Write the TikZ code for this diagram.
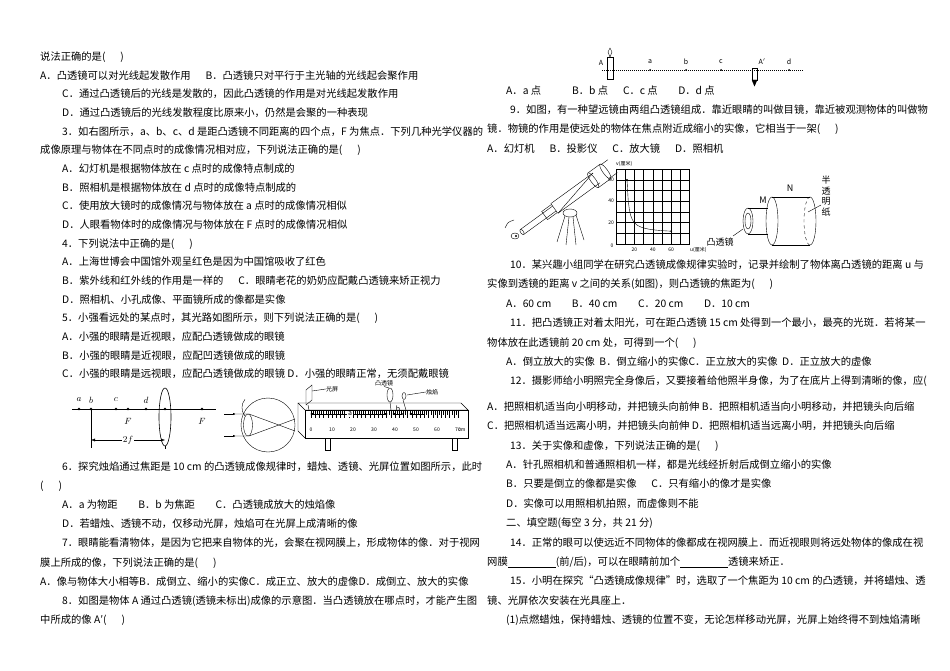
\documentclass[tikz,border=0pt]{standalone}
\usepackage{fontspec}
\setmainfont{Noto Sans CJK SC}
\usetikzlibrary{arrows.meta}
\newcommand{\Ln}[3]{\node[txt] at (#1,#2) {#3};}
\begin{document}
\begin{tikzpicture}[x=1pt,y=-1pt,
  txt/.style={anchor=west,inner sep=0pt,font=\fontsize{10.3}{12}\selectfont},
  lab/.style={inner sep=0pt,font=\fontsize{7}{8}\selectfont\itshape},
  big/.style={inner sep=0pt,font=\fontsize{9}{9}\selectfont},
  sml/.style={inner sep=0pt,font=\fontsize{5}{6}\selectfont},
  ln/.style={line width=0.6pt},
  thin/.style={line width=0.4pt}]
\useasboundingbox[fill=white] (0,0) rectangle (950,671);
% ---------- left column ----------
\Ln{40}{57}{说法正确的是(\quad\ \ )}
\Ln{40}{76}{A．凸透镜可以对光线起发散作用\quad\ \ B．凸透镜只对平行于主光轴的光线起会聚作用}
\Ln{62}{94}{C．通过凸透镜后的光线是发散的，因此凸透镜的作用是对光线起发散作用}
\Ln{62}{113}{D．通过凸透镜后的光线发散程度比原来小，仍然是会聚的一种表现}
\Ln{62}{132}{3．如右图所示，a、b、c、d 是距凸透镜不同距离的四个点，F 为焦点．下列几种光学仪器的}
\Ln{40}{150}{成像原理与物体在不同点时的成像情况相对应，下列说法正确的是(\quad\ \ )}
\Ln{62}{169}{A．幻灯机是根据物体放在 c 点时的成像特点制成的}
\Ln{62}{188}{B．照相机是根据物体放在 d 点时的成像特点制成的}
\Ln{62}{206}{C．使用放大镜时的成像情况与物体放在 a 点时的成像情况相似}
\Ln{62}{225}{D．人眼看物体时的成像情况与物体放在 F 点时的成像情况相似}
\Ln{62}{244}{4．下列说法中正确的是(\quad\ \ )}
\Ln{62}{262}{A．上海世博会中国馆外观呈红色是因为中国馆吸收了红色}
\Ln{62}{281}{B．紫外线和红外线的作用是一样的\quad\ \ C．眼睛老花的奶奶应配戴凸透镜来矫正视力}
\Ln{62}{300}{D．照相机、小孔成像、平面镜所成的像都是实像}
\Ln{62}{318}{5．小强看远处的某点时，其光路如图所示，则下列说法正确的是(\quad\ \ )}
\Ln{62}{337}{A．小强的眼睛是近视眼，应配凸透镜做成的眼镜}
\Ln{62}{356}{B．小强的眼睛是近视眼，应配凹透镜做成的眼镜}
\Ln{62}{374}{C．小强的眼睛是远视眼，应配凸透镜做成的眼镜 D．小强的眼睛正常，无须配戴眼镜}
\Ln{62}{467}{6．探究烛焰通过焦距是 10 cm 的凸透镜成像规律时，蜡烛、透镜、光屏位置如图所示，此时}
\Ln{40}{486}{(\quad\ \ )}
\Ln{62}{505}{A．a 为物距\qquad B．b 为焦距\qquad C．凸透镜成放大的烛焰像}
\Ln{62}{524}{D．若蜡烛、透镜不动，仅移动光屏，烛焰可在光屏上成清晰的像}
\Ln{62}{543}{7．眼睛能看清物体，是因为它把来自物体的光，会聚在视网膜上，形成物体的像．对于视网}
\Ln{40}{563}{膜上所成的像，下列说法正确的是(\quad\ \ )}
\Ln{40}{582}{A．像与物体大小相等B．成倒立、缩小的实像C．成正立、放大的虚像D．成倒立、放大的实像}
\Ln{62}{601}{8．如图是物体 A 通过凸透镜(透镜未标出)成像的示意图．当凸透镜放在哪点时，才能产生图}
\Ln{40}{620}{中所成的像 A′(\quad\ \ )}
% ---------- right column ----------
\Ln{506}{91}{A．a 点\qquad\quad B．b 点\quad\ \ C．c 点\qquad D．d 点}
\Ln{510}{110}{9．如图，有一种望远镜由两组凸透镜组成．靠近眼睛的叫做目镜，靠近被观测物体的叫做物}
\Ln{487}{129}{镜．物镜的作用是使远处的物体在焦点附近成缩小的实像，它相当于一架(\quad\ \ )}
\Ln{487}{149}{A．幻灯机\quad\ \ B．投影仪\quad\ \ C．放大镜\quad\ \ D．照相机}
\Ln{510}{265}{10．某兴趣小组同学在研究凸透镜成像规律实验时，记录并绘制了物体离凸透镜的距离 u 与}
\Ln{487}{284}{实像到透镜的距离 v 之间的关系(如图)，则凸透镜的焦距为(\quad\ \ )}
\Ln{506}{304}{A．60 cm\qquad B．40 cm\qquad C．20 cm\qquad D．10 cm}
\Ln{510}{323}{11．把凸透镜正对着太阳光，可在距凸透镜 15 cm 处得到一个最小，最亮的光斑．若将某一}
\Ln{487}{343}{物体放在此透镜前 20 cm 处，可得到一个(\quad\ \ )}
\Ln{506}{362}{A．倒立放大的实像\ \ B．倒立缩小的实像C．正立放大的实像\ \ D．正立放大的虚像}
\Ln{510}{381}{12．摄影师给小明照完全身像后，又要接着给他照半身像，为了在底片上得到清晰的像，应(}
\Ln{487}{407}{A．把照相机适当向小明移动，并把镜头向前伸 B．把照相机适当向小明移动，并把镜头向后缩}
\Ln{487}{426}{C．把照相机适当远离小明，并把镜头向前伸 D．把照相机适当远离小明，并把镜头向后缩}
\Ln{510}{446}{13．关于实像和虚像，下列说法正确的是(\quad\ \ )}
\Ln{506}{465}{A．针孔照相机和普通照相机一样，都是光线经折射后成倒立缩小的实像}
\Ln{506}{484}{B．只要是倒立的像都是实像\quad\ \ C．只有缩小的像才是实像}
\Ln{506}{504}{D．实像可以用照相机拍照，而虚像则不能}
\Ln{506}{523}{二、填空题(每空 3 分，共 21 分)}
\Ln{510}{543}{14．正常的眼可以使远近不同物体的像都成在视网膜上．而近视眼则将远处物体的像成在视}
\Ln{487}{562}{网膜\underline{\hspace{48pt}}(前/后)，可以在眼睛前加个\underline{\hspace{48pt}}透镜来矫正．}
\Ln{510}{581}{15．小明在探究“凸透镜成像规律”时，选取了一个焦距为 10 cm 的凸透镜，并将蜡烛、透}
\Ln{487}{601}{镜、光屏依次安装在光具座上．}
\Ln{506}{620}{(1)点燃蜡烛，保持蜡烛、透镜的位置不变，无论怎样移动光屏，光屏上始终得不到烛焰清晰}
% ---------- figure: points a b c d F ----------
\coordinate (ax0) at (72,409); \coordinate (ax1) at (216,409);
\draw[ln] (ax0) -- (ax1);
\foreach \x/\n in {79/a,91/b,116/c,146/d}{
  \fill (\x,409) circle (1.3pt); \node[big] at (\x,400) {$\n$};}
\fill (128,409) circle (1.3pt); \node[big] at (128,421) {$F$};
\fill (202,409) circle (1.3pt); \node[big] at (202,421) {$F$};
\fill (165,409) circle (1.3pt);
\draw[ln] (165,417) ellipse (6 and 29);
\coordinate (tb) at (91,440); \coordinate (tl) at (165,440);
\draw[thin] (91,409) -- (91,448); \draw[thin] (165,446) -- (165,449);
\node[big,fill=white,inner sep=1pt] (tf) at (128,440) {$2f$};
\draw[thin,-{Latex[length=4pt]}] (tf) -- (tb);
\draw[thin,-{Latex[length=4pt]}] (tf) -- (tl);
% ---------- figure: eye ----------
\draw[thin] (268,425) circle (27);
\draw[thin] (248,425) ellipse (4.5 and 11);
\draw[thin] (245,416) arc (140:220:13);
\foreach \yy/\s in {414/1,436/-1}{
  \draw[thin,-{Latex[length=3pt]}] (224,\yy) -- (236,\yy);
  \draw[thin] (236,\yy) -- (249,\yy) -- (295,425+\s*6);}
% ---------- figure: optical bench ----------
\draw[thin] (298,403) -- (461,403) -- (468,410) -- (305,410) -- cycle;
\draw[thin] (305,410) rectangle (468,438);
\draw[thin] (298,403) -- (298,431) -- (305,438);
\foreach \i in {0,2,...,70}{ \draw[line width=0.25pt] (311+\i*2.1,410) -- (311+\i*2.1,418);}
\foreach \i in {1,3,...,69}{ \draw[line width=0.25pt] (311+\i*2.1,410) -- (311+\i*2.1,415);}
\foreach \v in {0,10,...,70}{ \node[sml] at (311+\v*2.1,430) {\v};}
\node[sml] at (462,430) {cm};
\draw[thin] (325,438) rectangle (330,450); \draw[thin] (452,438) rectangle (457,450);
% screen
\draw[thin] (306,405) -- (306,390) -- (312,385) -- (312,400) -- cycle;
\draw[thin] (308,405) -- (309,410);
\node[sml,font=\fontsize{6}{7}\selectfont] (gp) at (332,389) {光屏};
\draw[thin] (gp.west) -- (312,391);
% lens
\draw[thin] (390,395) ellipse (3 and 7);
\draw[thin] (390,402) -- (391,410);
\node[sml,font=\fontsize{6}{7}\selectfont] (tj) at (384,383.5) {凸透镜};
\draw[thin] (tj.south) -- (389,388);
% candle
\draw[thin] (403,400) -- (406,410);
\draw[thin] (404,396) ellipse (2 and 3.5);
\node[sml,font=\fontsize{6}{7}\selectfont] (zy) at (432,392) {烛焰};
\draw[thin] (zy.west) -- (407,395);
\draw[thin,{Latex[length=3pt]}-{Latex[length=3pt]}] (310,414) -- (388,414);
\node[lab,fill=white,inner sep=1pt] at (350,414) {a};
\draw[thin,{Latex[length=3pt]}-{Latex[length=3pt]}] (392,414) -- (404,414);
\node[lab] at (398,409) {b};
\draw[thin,-{Latex[length=3pt]}] (424,414) -- (409,414);
% ---------- figure: A and image A' ----------
\draw[thin,dash pattern=on 1pt off 1pt] (602,70) -- (803,70);
\draw[thin] (607,57) rectangle (613,79);
\draw[thin] (610,57) -- (608,52) -- (610,48) -- (612,52) -- cycle;
\node[lab] at (601,63) {A};
\foreach \x/\n in {650/a,686/b,721/c,789/d}{ \fill (\x,70) circle (1pt); \node[lab] at (\x,62) {\n};}
\draw[thin] (752,68) rectangle (757,80);
\draw[thin,fill=black] (752,80) -- (757,80) -- (754.5,86) -- cycle;
\node[lab] at (762,62) {A$'$};
% ---------- figure: telescope ----------
\begin{scope}[shift={(522,232)},rotate=36]
  \draw[thin] (0,-3) -- (40,-3); \draw[thin] (0,3) -- (40,3);
  \draw[thin] (0,0) ellipse (1.5 and 3);
  \draw[thin] (28,-5) rectangle (40,5);
  \draw[thin] (40,-6) -- (92,-6); \draw[thin] (40,6) -- (92,6);
  \draw[thin] (40,6) -- (92,-6);
  \draw[thin] (88,-9) -- (103,-9); \draw[thin] (88,9) -- (103,9);
  \draw[thin] (88,0) ellipse (2.5 and 9); \draw[thin] (103,0) ellipse (2.5 and 9);
  \draw[thin] (103,-8) -- (112,-8); \draw[thin] (103,8) -- (112,8);
\end{scope}
\draw[thin] (515,236) ellipse (4 and 3); \fill (516,236) circle (1.2pt);
\draw[thin] (505,228) .. controls (508,222) .. (514,220);
\draw[thin] (570,213) ellipse (7 and 4);
\draw[thin] (565,216) -- (557,242); \draw[thin] (569,217) -- (566,245);
\draw[thin] (573,217) -- (576,245); \draw[thin] (576,215) -- (584,240);
% ---------- figure: graph ----------
\foreach \i in {0,...,8}{ \draw[line width=0.35pt] (616+\i*9.2,244) -- (616+\i*9.2,169);}
\foreach \j in {0,...,7}{ \draw[line width=0.35pt] (616,244-\j*10.7) -- (690,244-\j*10.7);}
\node[sml] at (612,246) {0};
\foreach \v in {20,40,60}{ \node[sml,anchor=east] at (614,244-\v*1.07) {\v};
  \node[sml] at (616+\v*0.92,250) {\v};}
\node[sml,anchor=west] at (616,164) {\textit{v}(厘米)};
\node[sml,anchor=west] at (690,250) {\textit{u}(厘米)};
\draw[thin,domain=12:60,samples=40] plot ({616+\x*0.92},{244-1.07*10*\x/(\x-10)});
\fill (616+12*0.92,244-64.2) circle (1pt);
\fill (616+60*0.92,244-12.84) circle (1pt);
% ---------- figure: camera model ----------
\draw[thin] (748,208) -- (768,208); \draw[thin] (748,234) -- (768,234);
\draw[thin] (748,221) ellipse (5 and 13);
\draw[thin] (748,221) ellipse (3 and 8);
\draw[thin] (772,197) -- (810,197); \draw[thin] (772,245) -- (810,245);
\draw[thin] (772,221) ellipse (6 and 24);
\draw[thin] (810,197) arc (-90:90:6 and 24);
\draw[thin,dashed] (810,197) arc (-90:-270:6 and 24);
\node[font=\fontsize{9}{10}\selectfont\itshape] at (763,200) {M};
\node[font=\fontsize{9}{10}\selectfont\itshape] at (790,188) {N};
\node[anchor=north,inner sep=0pt,font=\fontsize{9}{10.5}\selectfont,align=center] (bt) at (826,176) {半\\透\\明\\纸};
\draw[thin] (821,205) -- (808,212);
\node[font=\fontsize{9}{10}\selectfont] (tjl) at (720,242) {凸透镜};
\draw[thin] (733,236) -- (743,229);
\end{tikzpicture}
\end{document}
